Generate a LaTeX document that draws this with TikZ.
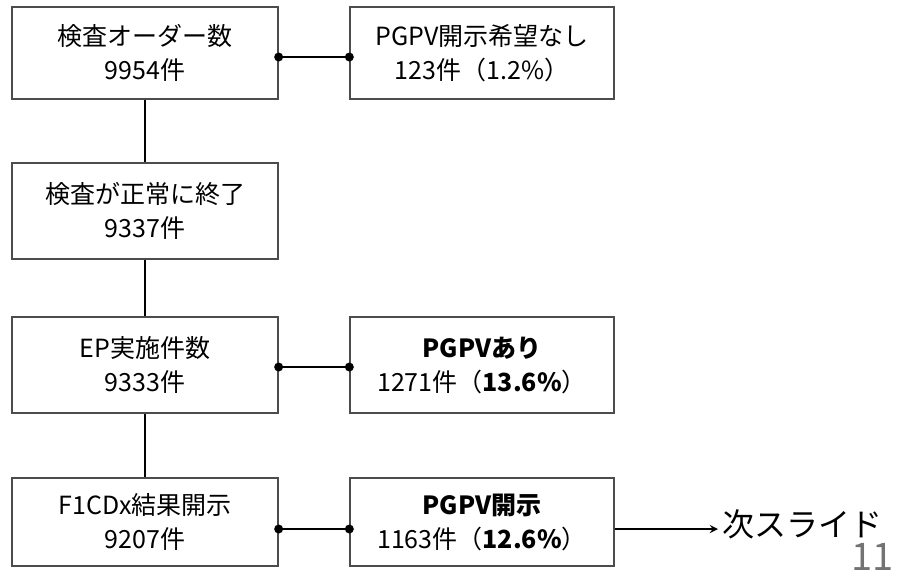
\documentclass[tikz,border=0pt]{standalone}
\usepackage{fontspec}
\setmainfont{Noto Sans CJK JP}
\begin{document}
\begin{tikzpicture}[x=1pt,y=-1pt,
  box/.style={draw=black!70,line width=1.3pt,fill=white,minimum width=266pt,align=center,font=\fontsize{25}{34}\selectfont,inner sep=0pt},
  conn/.style={line width=2.6pt,black},
  dot/.style={circle,fill=black,inner sep=0pt,minimum size=9pt}]
\useasboundingbox (0,0) rectangle (899,574);
\node[box,minimum height=92pt] (b1) at (145,53) {検査オーダー数\\9954件};
\node[box,minimum height=92pt,minimum width=264pt] (b2) at (482,53) {PGPV開示希望なし\\123件（1.2\%）};
\node[box,minimum height=96pt] (b3) at (145,211) {検査が正常に終了\\9337件};
\node[box,minimum height=96pt] (b4) at (145,365) {EP実施件数\\9333件};
\node[box,minimum height=96pt,minimum width=264pt] (b5) at (482,365) {\textbf{PGPVあり}\\1271件（\textbf{13.6\%}）};
\node[box,minimum height=88pt] (b6) at (145,522) {F1CDx結果開示\\9207件};
\node[box,minimum height=88pt,minimum width=264pt] (b7) at (482,522) {\textbf{PGPV開示}\\1163件（\textbf{12.6\%}）};
\node[anchor=west,inner sep=0pt,font=\fontsize{32}{33}\selectfont] (next) at (722,524) {次スライド};
\node[anchor=south east,inner sep=0pt,text=black!55,font=\fontsize{38}{38}\selectfont] (pg) at (894,571) {11};
% vertical spine
\draw[conn,line width=2.2pt] (b1.south) -- (b3.north);
\draw[conn,line width=2.2pt] (b3.south) -- (b4.north);
\draw[conn,line width=2.2pt] (b4.south) -- (b6.north);
% horizontal connectors
\coordinate (c1a) at (b1.east |- 0,57);
\coordinate (c1b) at (b2.west |- 0,57);
\draw[conn] (c1a) -- (c1b);
\node[dot] at (c1a) {}; \node[dot] at (c1b) {};
\coordinate (c2a) at (b4.east |- 0,367);
\coordinate (c2b) at (b5.west |- 0,367);
\draw[conn] (c2a) -- (c2b);
\node[dot] at (c2a) {}; \node[dot] at (c2b) {};
\coordinate (c3a) at (b6.east |- 0,529);
\coordinate (c3b) at (b7.west |- 0,529);
\draw[conn] (c3a) -- (c3b);
\node[dot] at (c3a) {}; \node[dot] at (c3b) {};
\draw[conn,->,>=stealth] (b7.east |- 0,529) -- ([xshift=-4pt]next.west |- 0,529);
\end{tikzpicture}
\end{document}
